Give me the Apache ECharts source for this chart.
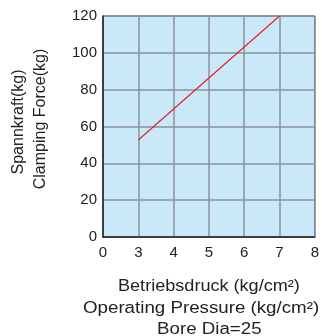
<!DOCTYPE html>
<html>
<head>
<meta charset="utf-8">
<script src="https://cdn.jsdelivr.net/npm/echarts@6/dist/echarts.min.js"></script>
<style>
html,body{margin:0;padding:0;background:#fff;}
#P1{width:322px;height:336px;}
</style>
</head>
<body>
<div id="P1"></div>
<script>
// x 轴刻度（等距排列）
var pressureLabels = ['0', '3', '4', '5', '6', '7', '8'];
// 夹紧力
var clampForce = [null, 52.7, 69.5, 86.3, 103.2, 120, null];
var yTicks = [0, 20, 40, 60, 80, 100, 120];

var myChart = echarts.init(document.getElementById('P1'));
var font = 'Liberation Sans, Arial, sans-serif';
function txt(s, x, y, opt) {
	var o = {
		type: 'text', x: x, y: y,
		style: {text: s, fill: '#222', font: '16px ' + font, textAlign: 'left', textVerticalAlign: 'middle'}
	};
	for (var k in opt) o[k] = opt[k];
	return o;
}
var option = {
	backgroundColor: '#fff',
	animation: false,
	grid: {
		left: 103,
		right: 7,
		top: 16,
		bottom: 99,
		show: true,
		backgroundColor: '#c9e9f9',
		borderColor: '#444',
		borderWidth: 1
	},
	xAxis: {
		type: 'category',
		data: pressureLabels,
		boundaryGap: false,
		axisLine: {lineStyle: {color: '#222', width: 1.5}},
		axisTick: {show: false},
		axisLabel: {color: '#222', fontSize: 15, fontFamily: font, margin: 8, interval: 0},
		splitLine: {show: true, lineStyle: {color: '#8a9399', width: 1.5}}
	},
	yAxis: {
		type: 'value',
		min: yTicks[0],
		max: yTicks[yTicks.length - 1],
		interval: 20,
		axisLine: {show: true, lineStyle: {color: '#222', width: 1.5}},
		axisTick: {show: false},
		axisLabel: {color: '#222', fontSize: 15, fontFamily: font, margin: 6},
		splitLine: {show: true, lineStyle: {color: '#8a9399', width: 1.5}}
	},
	graphic: [
		txt('Betriebsdruck (kg/cm²)', 118, 287, {scaleX: 1.13}),
		txt('Operating Pressure (kg/cm²)', 83, 309, {scaleX: 1.17}),
		txt('Bore Dia=25', 157, 330, {scaleX: 1.17}),
		{type: 'text', x: 19, y: 122, rotation: Math.PI / 2, style: {text: 'Spannkraft(kg)', fill: '#222', font: '16px ' + font, textAlign: 'center', textVerticalAlign: 'middle'}},
		{type: 'text', x: 41, y: 119, rotation: Math.PI / 2, style: {text: 'Clamping Force(kg)', fill: '#222', font: '16px ' + font, textAlign: 'center', textVerticalAlign: 'middle'}}
	],
	series: [{
		type: 'line',
		data: clampForce,
		symbol: 'none',
		lineStyle: {color: '#e8202a', width: 1.2}
	}]
};
myChart.setOption(option);
</script>
</body>
</html>
